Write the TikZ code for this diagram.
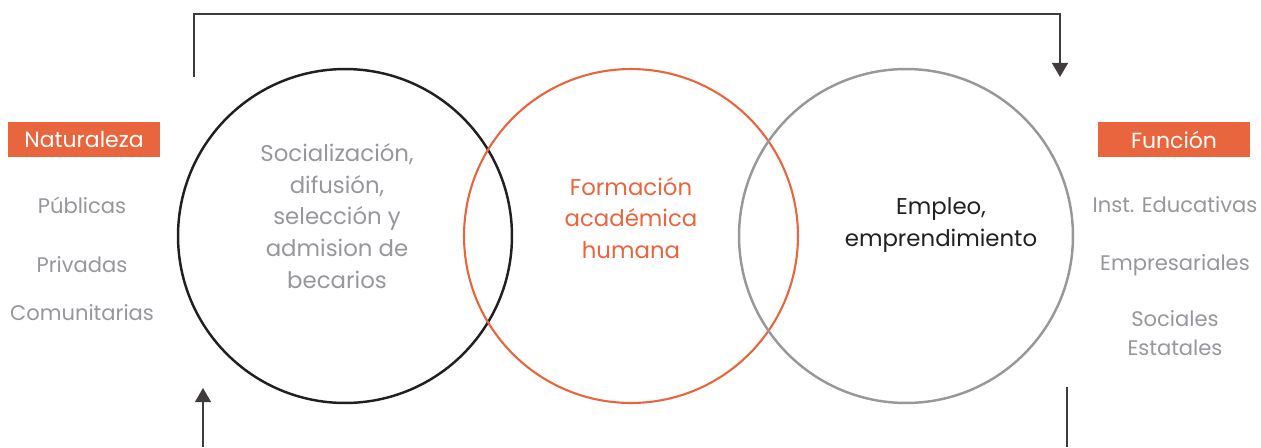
\documentclass[tikz,border=0pt]{standalone}
\usepackage{fontspec}
\setmainfont{Poppins}
\usetikzlibrary{arrows.meta}
\definecolor{naranja}{RGB}{233,101,61}
\definecolor{grisTexto}{RGB}{150,151,156}
\definecolor{grisCirculo}{RGB}{152,152,152}
\definecolor{negro}{RGB}{35,31,32}
\definecolor{flecha}{RGB}{64,60,62}

\begin{document}
\begin{tikzpicture}[x=0.02cm, y=-0.02cm,
	etiqueta/.style={fill=naranja, text=white, minimum width=3.04cm, minimum height=0.7cm, inner sep=0pt, font=\fontsize{12.5}{15}\selectfont},
	lista/.style={text=grisTexto, align=center, font=\fontsize{12}{16.5}\selectfont},
	texto/.style={align=center, font=\fontsize{13}{18}\selectfont},
	circulo/.style={circle, minimum size=6.68cm, inner sep=0pt},
	conector/.style={flecha, line width=1.1pt, -{Triangle[width=9pt, length=8pt]}}]

	\useasboundingbox (0, 0) rectangle (1261, 447);

	% circulos
	\node[circulo, draw=negro, line width=1.4pt] (izq) at (345, 236) {};
	\node[circulo, draw=naranja, line width=1.2pt] (centro) at (631, 236) {};
	\node[circulo, draw=grisCirculo, line width=1.4pt] (der) at (906, 236) {};

	\node[texto, text=grisTexto] (socializacion) at (337, 216) {Socialización,\\difusión,\\selección y\\admision de\\becarios};
	\node[texto, text=naranja] (formacion) at (631, 218) {Formación\\académica\\humana};
	\node[texto, text=negro] (empleo) at (941, 225) {Empleo,\\emprendimiento};

	% columna izquierda
	\node[etiqueta] (naturaleza) at (84, 139.5) {Naturaleza};
	\node[lista] (publicas) at (82, 205) {Públicas};
	\node[lista] (privadas) at (82, 265) {Privadas};
	\node[lista] (comunitarias) at (82, 313) {Comunitarias};

	% columna derecha
	\node[etiqueta] (funcion) at (1174, 139.5) {Función};
	\node[lista] (educativas) at (1175, 205) {Inst. Educativas};
	\node[lista] (empresariales) at (1175, 265) {Empresariales};
	\node[lista, font=\fontsize{12}{16.5}\selectfont] (sociales) at (1175, 333.5) {Sociales\\Estatales};

	% flechas
	\coordinate (arribaIzq) at (194, 77);
	\coordinate (techo) at (627, 14);
	\coordinate (arribaDer) at (1060, 77);
	\draw[conector] (arribaIzq) |- (techo) -| (arribaDer);

	\coordinate (abajoIzq) at (203, 447);
	\coordinate (puntaIzq) at (203, 388);
	\draw[conector] (abajoIzq) -- (puntaIzq);

	\coordinate (inicioDer) at (1067, 387);
	\coordinate (abajoDer) at (1067, 447);
	\draw[flecha, line width=1.1pt] (inicioDer) -- (abajoDer);

\end{tikzpicture}
\end{document}
